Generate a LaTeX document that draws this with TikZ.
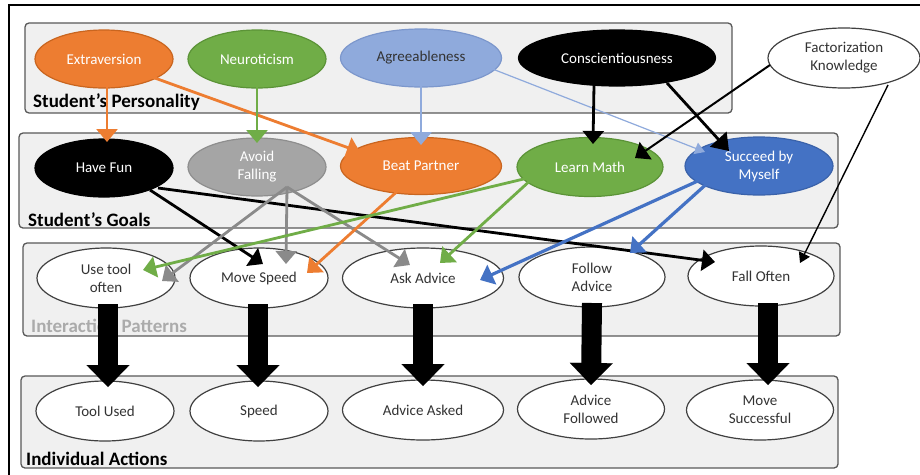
\documentclass[tikz,border=0pt]{standalone}
\usepackage{fontspec}
\setmainfont{Carlito}
\usetikzlibrary{shapes.geometric,arrows.meta}

\definecolor{cOrange}{HTML}{ED7D31}
\definecolor{cOrangeEdge}{HTML}{C9651F}
\definecolor{cGreen}{HTML}{70AD47}
\definecolor{cGreenEdge}{HTML}{5B9337}
\definecolor{cLightBlue}{HTML}{8FAADC}
\definecolor{cLightBlueEdge}{HTML}{7C97CC}
\definecolor{cBlue}{HTML}{4472C4}
\definecolor{cBlueEdge}{HTML}{3A62AA}
\definecolor{cGrey}{HTML}{A5A5A5}
\definecolor{cGreyEdge}{HTML}{8E8E8E}
\definecolor{cGreyLine}{HTML}{8A8A8A}
\definecolor{boxfill}{HTML}{F0F0F0}
\definecolor{boxedge}{HTML}{595959}
\definecolor{ovaledge}{HTML}{404040}
\definecolor{ovaltext}{HTML}{333333}
\definecolor{fadedlabel}{HTML}{ABABAB}

\begin{document}
\begin{tikzpicture}[x=1pt,y=-1pt,
  layerbox/.style={draw=boxedge,fill=boxfill,line width=1.3pt,rounded corners=4pt},
  boxlabel/.style={anchor=west,inner sep=0pt,font=\fontsize{19}{22}\selectfont\bfseries},
  oval/.style={ellipse,inner sep=0pt,align=center,line width=1.2pt,
    font=\fontsize{15}{18}\selectfont},
  plain/.style={oval,draw=ovaledge,fill=white,text=ovaltext},
  link/.style={line width=2.8pt,-{Triangle[width=21pt,length=13pt]}},
  thinlink/.style={line width=1.4pt,-{Triangle[width=12pt,length=10pt]}},
  bigarrow/.style={line width=20pt,-{Triangle[width=43pt,length=22pt,line width=0.1pt]}},
]
\useasboundingbox (0,0) rectangle (920,474);
\fill[white] (0,0) rectangle (920,474);

% outer frame
\draw[line width=2pt] (9,480) -- (9,5) -- (925,5);

% layer panels
\draw[layerbox] (25,23) rectangle (732,113);
\draw[layerbox] (19,133) rectangle (838,228);
\draw[layerbox] (23,243) rectangle (840,336);
\draw[layerbox] (21,376) rectangle (838,468);

\node[boxlabel] (lblP) at (33,102) {Student’s Personality};
\node[boxlabel] (lblG) at (28,220) {Student’s Goals};
\node[boxlabel,text=fadedlabel] (lblI) at (31,326) {Interaction Patterns};
\node[boxlabel] (lblA) at (26,459) {Individual Actions};

% personality traits
\node[oval,fill=cOrange,draw=cOrangeEdge,text=white,minimum width=138,minimum height=58] (extra) at (104,59) {Extraversion};
\node[oval,fill=cGreen,draw=cGreenEdge,text=white,minimum width=138,minimum height=58] (neuro) at (257,59) {Neuroticism};
\node[oval,fill=cLightBlue,draw=cLightBlueEdge,text=ovaltext,minimum width=161,minimum height=58] (agree) at (421,58) {Agreeableness};
\node[oval,fill=black,draw=black,text=white,minimum width=197,minimum height=56] (consc) at (617,58) {Conscientiousness};
\node[plain,minimum width=152,minimum height=60] (fact) at (844,58) {Factorization\\Knowledge};

% goals
\node[oval,fill=black,draw=black,text=white,minimum width=138,minimum height=58] (fun) at (104,168) {Have Fun};
\node[oval,fill=cGrey,draw=cGreyEdge,text=white,minimum width=138,minimum height=58] (avoid) at (257,167) {Avoid\\Falling};
\node[oval,fill=cOrange,draw=cOrangeEdge,text=white,minimum width=161,minimum height=57] (beat) at (421,166) {Beat Partner};
\node[oval,fill=cGreen,draw=cGreenEdge,text=white,minimum width=146,minimum height=59] (learn) at (590,167) {Learn Math};
\node[oval,fill=cBlue,draw=cBlueEdge,text=white,minimum width=148,minimum height=58] (succ) at (759,166) {Succeed by\\Myself};

% interaction patterns
\node[plain,minimum width=138,minimum height=60] (use) at (106,278) {Use tool\\often};
\node[plain,minimum width=138,minimum height=60] (move) at (259,278) {Move Speed};
\node[plain,minimum width=161,minimum height=60] (ask) at (423,278) {Ask Advice};
\node[plain,minimum width=146,minimum height=60] (follow) at (592,277) {Follow\\Advice};
\node[plain,minimum width=146,minimum height=60] (fall) at (761,276) {Fall Often};

% individual actions
\node[plain,minimum width=138,minimum height=60] (used) at (105,411) {Tool Used};
\node[plain,minimum width=138,minimum height=60] (speed) at (259,411) {Speed};
\node[plain,minimum width=161,minimum height=60] (asked) at (423,410) {Advice Asked};
\node[plain,minimum width=147,minimum height=60] (followed) at (591,409) {Advice\\Followed};
\node[plain,minimum width=147,minimum height=60] (moved) at (760,410) {Move\\Successful};

% personality -> goals
\draw[link,cOrange] ([shift={(3,28)}]extra.center) -- ([shift={(3,-26)}]fun.center);
\draw[link,cOrange] ([shift={(48,18)}]extra.center) -- ([shift={(-61,-14)}]beat.center);
\draw[link,cGreen] ([shift={(0,24)}]neuro.center) -- ([shift={(0,-24)}]avoid.center);
\draw[link,cLightBlue] ([shift={(0,27)}]agree.center) -- ([shift={(0,-21)}]beat.center);
\draw[thinlink,cLightBlue,line width=1.2pt] ([shift={(69,10)}]agree.center) -- ([shift={(-54,-14)}]succ.center);
\draw[link,black] ([shift={(-23,27)}]consc.center) -- ([shift={(3,-23)}]learn.center);
\draw[link,black,-{Triangle[width=22pt,length=16pt]}] ([shift={(50,25)}]consc.center) -- ([shift={(-30,-15)}]succ.center);
\draw[link,black,line width=2pt] ([shift={(-74,7)}]fact.center) -- ([shift={(45,-9)}]learn.center);
\draw[thinlink,black] ([shift={(44,27)}]fact.center) -- ([shift={(39,-13)}]fall.center);

% goals -> interaction patterns
\draw[link,black] ([shift={(46,22)}]fun.center) -- ([shift={(4,-14)}]move.center);
\draw[link,black] ([shift={(54,20)}]fun.center) -- ([shift={(-46,-14)}]fall.center);
\draw[link,cGreyLine] ([shift={(30,20)}]avoid.center) -- ([shift={(56,3)}]use.center);
\draw[link,cGreyLine] ([shift={(30,20)}]avoid.center) -- ([shift={(27,-14)}]move.center);
\draw[link,cGreyLine] ([shift={(30,20)}]avoid.center) -- ([shift={(-13,-13)}]ask.center);
\draw[link,cOrange] ([shift={(-19,21)}]beat.center) -- ([shift={(48,-5)}]move.center);
\draw[link,cGreen] ([shift={(-58,10)}]learn.center) -- ([shift={(37,-8)}]use.center);
\draw[link,cGreen] ([shift={(-57,11)}]learn.center) -- ([shift={(17,-15)}]ask.center);
\draw[link,cBlue,line width=3.2pt] ([shift={(-37,4)}]succ.center) -- ([shift={(57,2)}]ask.center);
\draw[link,cBlue,line width=3.2pt] ([shift={(-37,4)}]succ.center) -- ([shift={(38,-24)}]follow.center);

% interaction patterns -> individual actions
\draw[bigarrow] ([shift={(2,26)}]use.center) -- ([shift={(3,-24)}]used.center);
\draw[bigarrow] ([shift={(-1,26)}]move.center) -- ([shift={(-1,-24)}]speed.center);
\draw[bigarrow] ([shift={(0,26)}]ask.center) -- ([shift={(0,-24)}]asked.center);
\draw[bigarrow] ([shift={(0,26)}]follow.center) -- ([shift={(0,-24)}]followed.center);
\draw[bigarrow] ([shift={(7,27)}]fall.center) -- ([shift={(8,-25)}]moved.center);
\end{tikzpicture}
\end{document}
